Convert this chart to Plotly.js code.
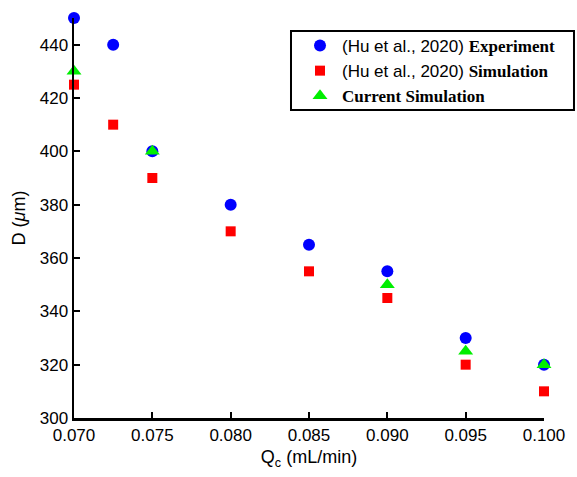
<!DOCTYPE html>
<html>
<head>
<meta charset="utf-8">
<script src="https://cdn.plot.ly/plotly-3.0.1.min.js"></script>
<style>html,body{margin:0;padding:0;background:#fff;}#chart{width:577px;height:477px;}</style>
</head>
<body>
<div id="chart"></div>
<script>
var qc = [0.070, 0.0725, 0.075, 0.080, 0.085, 0.090, 0.095, 0.100];
var expD = [450, 440, 400, 380, 365, 355, 330, 320];
var huSimD = [425, 410, 390, 370, 355, 345, 320, 310];
var curQc = [0.070, 0.075, 0.090, 0.095, 0.100];
var curD = [430, 400, 350, 325, 320];
var xTicks = [0.070, 0.075, 0.080, 0.085, 0.090, 0.095, 0.100];
var xTickText = ['0.070', '0.075', '0.080', '0.085', '0.090', '0.095', '0.100'];
var yTicks = [300, 320, 340, 360, 380, 400, 420, 440];

var serif = "style='font-family:\"Liberation Serif\",\"Times New Roman\",serif;font-weight:bold;font-size:17px'";
var traces = [
  {x: qc, y: expD, mode: 'markers', type: 'scatter', cliponaxis: false,
   name: "(Hu et al., 2020) <span " + serif + ">Experiment</span>",
   marker: {symbol: 'circle', size: 12, color: '#0000ff'}},
  {x: qc, y: huSimD, mode: 'markers', type: 'scatter', cliponaxis: false,
   name: "(Hu et al., 2020) <span " + serif + ">Simulation</span>",
   marker: {symbol: 'square', size: 10, color: '#ff0000'}},
  {x: curQc, y: curD, mode: 'markers', type: 'scatter', cliponaxis: false,
   name: "<span " + serif + ">Current Simulation</span>",
   marker: {symbol: 'triangle-up', size: 13, color: '#00ee00'}}
];

var layout = {
  width: 577, height: 477,
  margin: {l: 74, r: 33, t: 18, b: 59},
  paper_bgcolor: '#ffffff', plot_bgcolor: '#ffffff',
  font: {family: 'Arial, "Liberation Sans", sans-serif', color: '#000', size: 17},
  showlegend: true,
  legend: {x: 0.4766, y: 0.975, xanchor: 'left', yanchor: 'top',
    bgcolor: 'rgba(0,0,0,0)', borderwidth: 0,
    font: {size: 17}, tracegroupgap: 0, itemwidth: 34},
  shapes: [{type: 'rect', xref: 'paper', yref: 'paper',
    x0: 0.4617, x1: 1.0638, y0: 0.77, y1: 0.9675,
    line: {color: '#000', width: 2}, fillcolor: 'rgba(255,255,255,0)', layer: 'above'}],
  xaxis: {range: [0.070, 0.100], tickvals: xTicks, ticktext: xTickText,
    showgrid: false, zeroline: false, showline: true, linecolor: '#000', linewidth: 2.5,
    ticks: 'inside', ticklen: 6, tickwidth: 2, tickcolor: '#000',
    tickfont: {size: 17}, mirror: false,
    title: {text: 'Q<sub>c</sub> (mL/min)', font: {size: 18}, standoff: 7}},
  yaxis: {range: [300, 450], tickvals: yTicks,
    showgrid: false, zeroline: false, showline: true, linecolor: '#000', linewidth: 2.5,
    ticks: 'inside', ticklen: 6, tickwidth: 2, tickcolor: '#000',
    tickfont: {size: 17}, mirror: false,
    title: {text: 'D (<i>μ</i>m)', font: {size: 18}, standoff: 10}}
};
Plotly.newPlot('chart', traces, layout, {displayModeBar: false, staticPlot: true});
</script>
</body>
</html>
